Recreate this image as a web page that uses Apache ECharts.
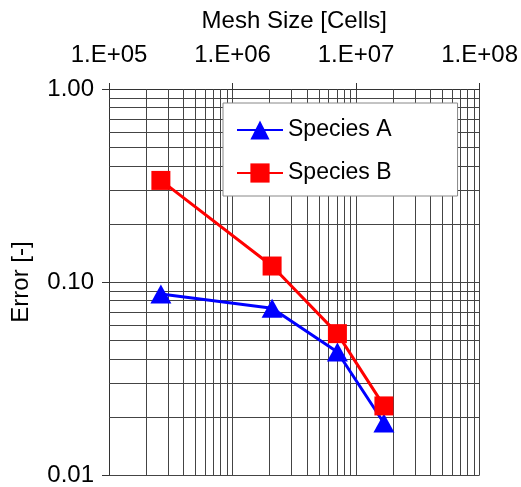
<!DOCTYPE html>
<html>
<head>
<meta charset="utf-8">
<script src="https://cdn.jsdelivr.net/npm/echarts@6/dist/echarts.min.js"></script>
<style>
html,body{margin:0;padding:0;background:#fff;}
#c{width:521px;height:487px;}
</style>
</head>
<body>
<div id="c"></div>
<script>
// ---- data ----
const meshSize = [2.63e5, 2.09e6, 7.06e6, 1.68e7];
const speciesA = [0.0866, 0.0731, 0.0434, 0.0186];
const speciesB = [0.336, 0.121, 0.054, 0.0228];
const seriesNames = ['Species A', 'Species B'];
const xDecades = [1e5, 1e6, 1e7];
const yDecades = [0.01, 0.1];
const minorMultipliers = [2, 3, 4, 5, 6, 7, 8, 9];

const FONT = 'Liberation Sans, Arial, sans-serif';
const gridColor = '#444';

const xMinor = [];
xDecades.forEach(d => minorMultipliers.forEach(m => xMinor.push(d * m)));
const yMinor = [];
yDecades.forEach(d => minorMultipliers.forEach(m => yMinor.push(d * m)));

const minorLines = xMinor.map(v => ({xAxis: v})).concat(yMinor.map(v => ({yAxis: v})));

function fmtX(v) {
  const e = Math.round(Math.log10(v));
  return '1.E+' + (e < 10 ? '0' + e : e);
}

const chart = echarts.init(document.getElementById('c'), null, {renderer: 'canvas'});
chart.setOption({
  animation: false,
  backgroundColor: '#fff',
  textStyle: {fontFamily: FONT},
  grid: {left: 109, top: 89, right: 40, bottom: 6, containLabel: false},
  legend: {
    data: seriesNames,
    orient: 'vertical',
    z: 20,
    left: 223,
    top: 103,
    padding: [15, 66, 11, 13],
    itemGap: 19,
    itemWidth: 46,
    itemHeight: 24,
    backgroundColor: '#fff',
    borderColor: '#888',
    borderWidth: 1,
    textStyle: {fontSize: 23, color: '#000', fontFamily: FONT, lineHeight: 24, padding: [0, 0, 0, 0]}
  },
  xAxis: {
    type: 'log',
    logBase: 10,
    position: 'top',
    min: 1e5,
    max: 1e8,
    name: 'Mesh Size [Cells]',
    nameLocation: 'middle',
    nameGap: 56,
    nameTextStyle: {fontSize: 24, color: '#000', fontFamily: FONT},
    axisLine: {show: true, lineStyle: {color: '#333', width: 1}},
    axisTick: {show: true, length: 6, lineStyle: {color: '#333'}},
    axisLabel: {fontSize: 24, color: '#000', fontFamily: FONT, margin: 22, formatter: fmtX},
    splitLine: {show: true, lineStyle: {color: gridColor, width: 1}}
  },
  yAxis: {
    type: 'log',
    logBase: 10,
    min: 0.01,
    max: 1,
    name: 'Error [-]',
    nameLocation: 'middle',
    nameGap: 76,
    nameTextStyle: {fontSize: 24, color: '#000', fontFamily: FONT},
    axisLine: {show: true, lineStyle: {color: '#333', width: 1}},
    axisTick: {show: true, length: 7, lineStyle: {color: '#333'}},
    axisLabel: {fontSize: 24, color: '#000', fontFamily: FONT, margin: 15, formatter: v => v.toFixed(2)},
    splitLine: {show: true, lineStyle: {color: gridColor, width: 1}}
  },
  series: [
    {
      name: 'minorGrid',
      type: 'line',
      data: [],
      silent: true,
      z: 1,
      markLine: {
        z: 1,
        silent: true,
        symbol: 'none',
        animation: false,
        label: {show: false},
        lineStyle: {color: gridColor, width: 1, type: 'solid'},
        emphasis: {disabled: true},
        data: minorLines
      }
    },
    {
      name: seriesNames[0],
      type: 'line',
      z: 3,
      data: meshSize.map((x, i) => [x, speciesA[i]]),
      symbol: 'triangle',
      symbolSize: [21, 19],
      color: '#0000ff',
      itemStyle: {color: '#0000ff', borderWidth: 0},
      lineStyle: {color: '#0000ff', width: 3}
    },
    {
      name: seriesNames[1],
      type: 'line',
      z: 4,
      data: meshSize.map((x, i) => [x, speciesB[i]]),
      symbol: 'rect',
      symbolSize: 19,
      color: '#ff0000',
      itemStyle: {color: '#ff0000', borderWidth: 0},
      lineStyle: {color: '#ff0000', width: 3}
    }
  ]
});
</script>
</body>
</html>
